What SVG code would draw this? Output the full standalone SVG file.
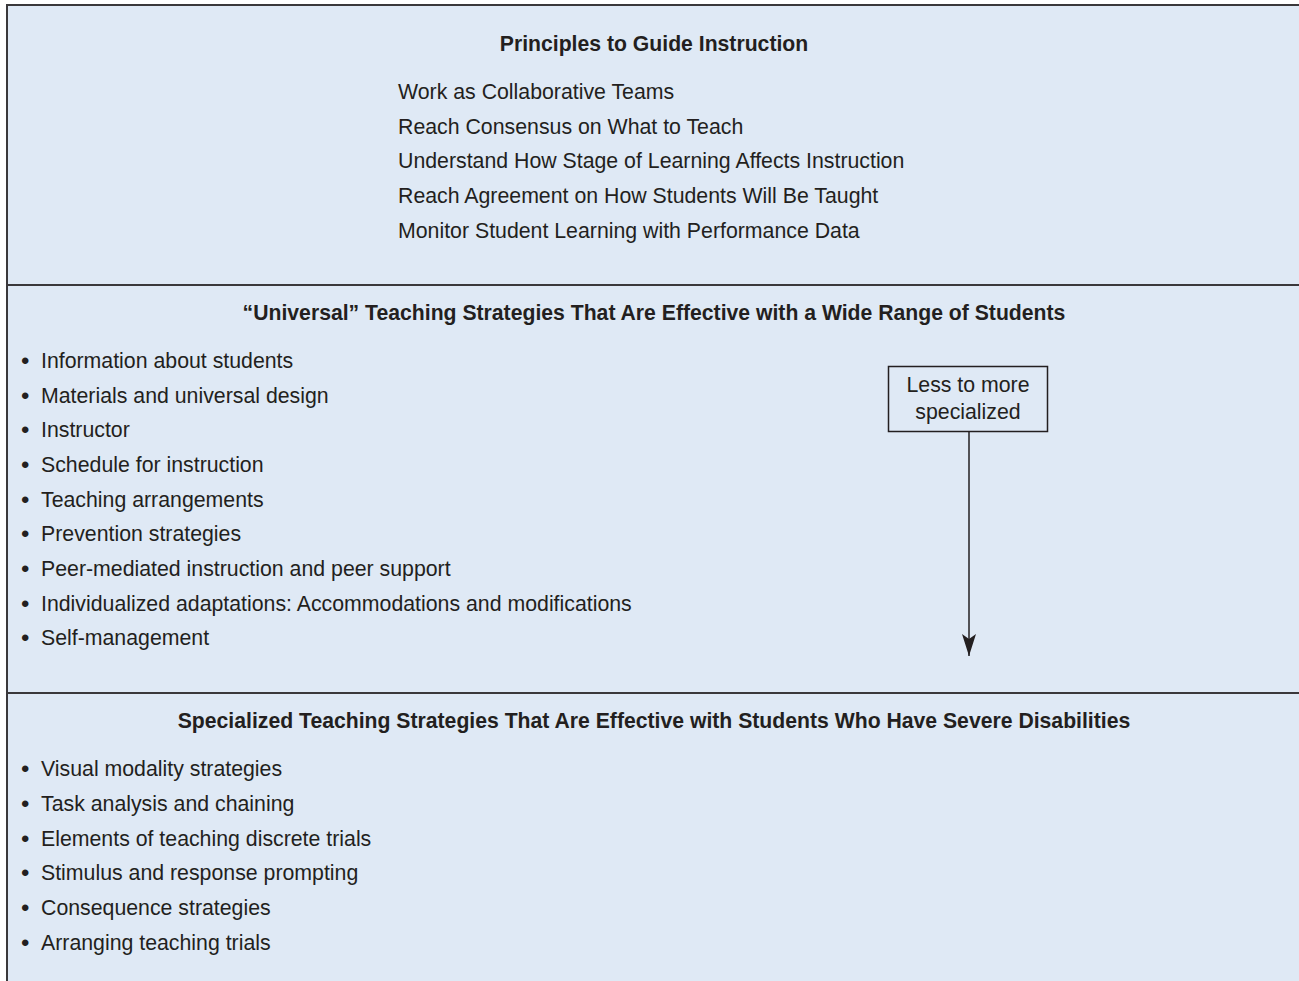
<svg xmlns="http://www.w3.org/2000/svg" width="1299" height="981" viewBox="0 0 1299 981">
<defs>
<style>
.t{font-family:"Liberation Sans",Arial,sans-serif;font-size:21.3px;fill:#231f20}
.b{font-family:"Liberation Sans",Arial,sans-serif;font-size:24px;fill:#231f20}
.h{font-family:"Liberation Sans",Arial,sans-serif;font-size:21.2px;font-weight:bold;fill:#231f20;text-anchor:middle}
.div{stroke:#3a383b;stroke-width:2}
</style>
<marker id="ah" viewBox="0 0 22 14" refX="22" refY="7" markerWidth="22" markerHeight="14" markerUnits="userSpaceOnUse" orient="auto">
<path d="M0,0 L22,7 L0,14 L5,7 Z" fill="#231f20"/>
</marker>
</defs>
<rect x="0" y="0" width="1299" height="981" fill="#ffffff"/>
<rect x="7" y="5" width="1292" height="976" fill="#dfe9f5"/>
<path d="M7,981 V5 H1299" fill="none" stroke="#3a383b" stroke-width="2"/>
<line class="div" x1="7" y1="285" x2="1299" y2="285"/>
<line class="div" x1="7" y1="693" x2="1299" y2="693"/>
<g id="principles">
<text class="h" x="654" y="51">Principles to Guide Instruction</text>
<text class="t" x="398" y="99">Work as Collaborative Teams</text>
<text class="t" x="398" y="134">Reach Consensus on What to Teach</text>
<text class="t" x="398" y="168">Understand How Stage of Learning Affects Instruction</text>
<text class="t" x="398" y="203">Reach Agreement on How Students Will Be Taught</text>
<text class="t" x="398" y="238">Monitor Student Learning with Performance Data</text>
</g>
<g id="universal">
<text class="h" x="654" y="320">“Universal”  Teaching Strategies That Are Effective with a Wide Range of Students</text>
<g class="b">
<text x="21" y="369">•</text><text x="21" y="404">•</text><text x="21" y="438">•</text>
<text x="21" y="473">•</text><text x="21" y="508">•</text><text x="21" y="542">•</text>
<text x="21" y="577">•</text><text x="21" y="612">•</text><text x="21" y="646">•</text>
</g>
<text class="t" x="41" y="368">Information about students</text>
<text class="t" x="41" y="403">Materials and universal design</text>
<text class="t" x="41" y="437">Instructor</text>
<text class="t" x="41" y="472">Schedule for instruction</text>
<text class="t" x="41" y="507">Teaching arrangements</text>
<text class="t" x="41" y="541">Prevention strategies</text>
<text class="t" x="41" y="576">Peer-mediated instruction and peer support</text>
<text class="t" x="41" y="611">Individualized adaptations: Accommodations and modifications</text>
<text class="t" x="41" y="645">Self-management</text>
</g>
<g id="specialized-box">
<rect x="888.5" y="366.5" width="159" height="65" fill="#dfe9f5" stroke="#231f20" stroke-width="1.5"/>
<text class="t" x="968" y="392" text-anchor="middle">Less to more</text>
<text class="t" x="968" y="419" text-anchor="middle">specialized</text>
</g>
<g id="connectors">
<line x1="969" y1="432" x2="969" y2="656" stroke="#231f20" stroke-width="1.5" marker-end="url(#ah)"/>
</g>
<g id="specialized">
<text class="h" x="654" y="728">Specialized Teaching Strategies That Are Effective with Students Who Have Severe Disabilities</text>
<g class="b">
<text x="21" y="777">•</text><text x="21" y="812">•</text><text x="21" y="847">•</text>
<text x="21" y="881">•</text><text x="21" y="916">•</text><text x="21" y="951">•</text>
</g>
<text class="t" x="41" y="776">Visual modality strategies</text>
<text class="t" x="41" y="811">Task analysis and chaining</text>
<text class="t" x="41" y="846">Elements of teaching discrete trials</text>
<text class="t" x="41" y="880">Stimulus and response prompting</text>
<text class="t" x="41" y="915">Consequence strategies</text>
<text class="t" x="41" y="950">Arranging teaching trials</text>
</g>
</svg>
